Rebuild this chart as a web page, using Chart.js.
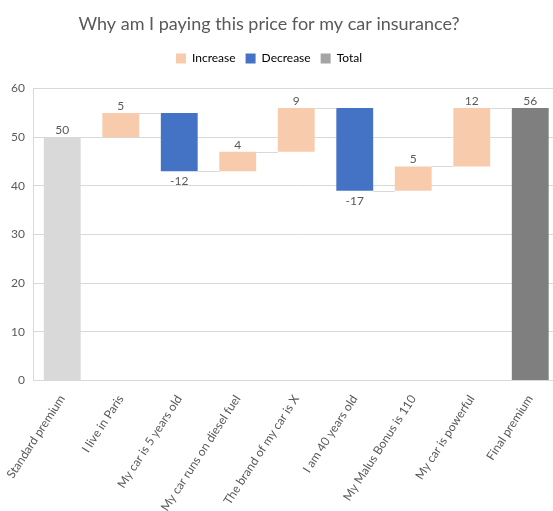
<!DOCTYPE html>
<html>
<head>
<meta charset="utf-8">
<script src="https://cdn.jsdelivr.net/npm/chart.js@4"></script>
<style>
  html, body { margin: 0; padding: 0; background: #fff; overflow: hidden; }
  #wrap { width: 553px; height: 511px; overflow: hidden; }
</style>
</head>
<body>
<div id="wrap"><canvas id="chart" width="580" height="511"></canvas></div>
<script>
const categories = [
    "Standard premium", "I live in Paris", "My car is 5 years old",
    "My car runs on diesel fuel", "The brand of my car is X", "I am 40 years old",
    "My Malus Bonus is 110", "My car is powerful", "Final premium"
];
const changes = [50, 5, -12, 4, 9, -17, 5, 12, 56];
const kinds = ["total", "increase", "decrease", "increase", "increase", "decrease", "increase", "increase", "total"];
const seriesNames = ["Increase", "Decrease", "Total"];
const seriesColors = ["#f8cbad", "#4472c4", "#a5a5a5"];
const yTicks = [0, 10, 20, 30, 40, 50, 60];

// running level after each bar, and the floating ranges
const levels = [];
let level = 0;
const ranges = changes.map((v, i) => {
    let r;
    if (kinds[i] === "total") {
        r = [0, v];
        level = v;
    } else {
        r = [level, level + v];
        level = level + v;
    }
    levels.push(level);
    return r;
});

function seriesData(kind) {
    return ranges.map((r, i) => kinds[i] === kind ? r : null);
}

const textColor = "#595959";
const gridColor = "#d9d9d9";
const font = "Lato, 'Liberation Sans', sans-serif";

function barAt(chart, i) {
    const ds = ["increase", "decrease", "total"].indexOf(kinds[i]);
    return chart.getDatasetMeta(ds).data[i];
}

const waterfallExtras = {
    id: "waterfallExtras",
    beforeInit(chart) {
        const fit = chart.legend.fit;
        chart.legend.fit = function () {
            fit.call(this);
            this.height += 14;
        };
    },
    afterLayout(chart) {
        // title and legend are centred on the visible chart, not the plot
        [chart.titleBlock, chart.legend].forEach(b => {
            b.left = 0;
            b.right = 538;
            b.width = 538;
        });
    },
    afterDatasetsDraw(chart) {
        const ctx = chart.ctx;
        const y = chart.scales.y;
        ctx.save();
        // connector lines
        ctx.strokeStyle = gridColor;
        ctx.lineWidth = 1;
        for (let i = 0; i < categories.length - 1; i++) {
            const a = barAt(chart, i), b = barAt(chart, i + 1);
            const py = Math.round(y.getPixelForValue(levels[i])) + 0.5;
            ctx.beginPath();
            ctx.moveTo(a.x + a.width / 2, py);
            ctx.lineTo(b.x - b.width / 2, py);
            ctx.stroke();
        }
        // value labels
        ctx.fillStyle = textColor;
        ctx.font = "12px " + font;
        ctx.textAlign = "center";
        ctx.textBaseline = "middle";
        for (let i = 0; i < categories.length; i++) {
            const el = barAt(chart, i);
            const top = Math.min(el.y, el.base), bottom = Math.max(el.y, el.base);
            if (kinds[i] === "decrease") {
                ctx.fillText(String(changes[i]), el.x, bottom + 10);
            } else {
                ctx.fillText(String(changes[i]), el.x, top - 7);
            }
        }
        ctx.restore();
    }
};

new Chart(document.getElementById("chart"), {
    type: "bar",
    data: {
        labels: categories,
        datasets: [
            { label: seriesNames[0], data: seriesData("increase"), backgroundColor: seriesColors[0] },
            { label: seriesNames[1], data: seriesData("decrease"), backgroundColor: seriesColors[1] },
            {
                label: seriesNames[2], data: seriesData("total"),
                backgroundColor: c => c.dataIndex === 0 ? "#d9d9d9" : "#7f7f7f"
            }
        ]
    },
    options: {
        responsive: false,
        animation: false,
        grouped: false,
        barPercentage: 0.63,
        categoryPercentage: 1,
        layout: { padding: { left: 0, right: 20.5, top: 0, bottom: 0 } },
        plugins: {
            title: {
                display: true,
                text: "Why am I paying this price for my car insurance?",
                color: textColor,
                font: { family: font, size: 18, weight: "normal" },
                padding: { top: 13, bottom: 8 }
            },
            legend: {
                display: true,
                labels: {
                    color: textColor,
                    font: { family: font, size: 12 },
                    boxWidth: 10,
                    boxHeight: 10,
                    padding: 10,
                    generateLabels: () => seriesNames.map((n, i) => ({
                        text: n, fillStyle: seriesColors[i], strokeStyle: seriesColors[i],
                        lineWidth: 0, datasetIndex: i
                    }))
                }
            },
            tooltip: { enabled: false }
        },
        scales: {
            x: {
                grid: { display: false },
                border: { display: true, color: gridColor },
                ticks: {
                    color: textColor,
                    font: { family: font, size: 12 },
                    minRotation: 57,
                    maxRotation: 57,
                    autoSkip: false,
                    padding: 4
                },
                afterFit: s => { s.height = 130.5; }
            },
            y: {
                min: 0,
                max: 60,
                afterBuildTicks: s => { s.ticks = yTicks.map(v => ({ value: v })); },
                grid: { color: gridColor, drawTicks: false },
                border: { display: true, color: gridColor },
                ticks: {
                    color: textColor,
                    font: { family: font, size: 12 },
                    padding: 8
                },
                afterFit: s => { s.width = 33; }
            }
        }
    },
    plugins: [waterfallExtras]
});
</script>
</body>
</html>
